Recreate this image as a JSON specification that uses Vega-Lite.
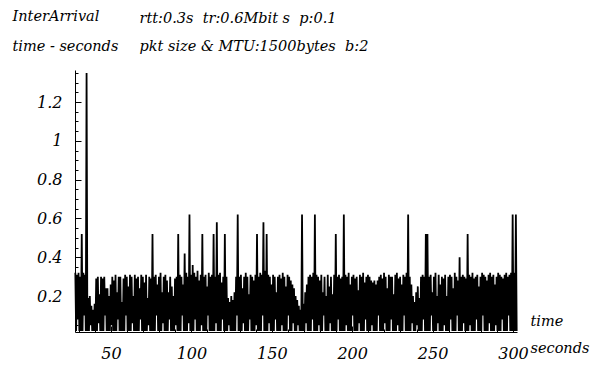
{
"$schema": "https://vega.github.io/schema/vega-lite/v6.json",
"width": 442, "height": 262,
"autosize": {"type": "none"},
"padding": {"left": 75, "top": 70, "right": 88, "bottom": 35},
"background": "white",
"data": {"values": [
{"t":27.8,"v":0.32},{"t":28.3,"v":0.02},{"t":28.8,"v":0.31},{"t":29.3,"v":0.08},{"t":29.8,"v":0.32},{"t":30.3,"v":0.02},{"t":30.8,"v":0.30},{"t":31.3,"v":0.02},{"t":31.8,"v":0.52},{"t":32.3,"v":0.02},
{"t":32.8,"v":0.32},{"t":33.3,"v":0.1},{"t":33.8,"v":0.31},{"t":34.3,"v":0.02},{"t":34.8,"v":1.35},{"t":35.3,"v":0.02},{"t":35.8,"v":0.19},{"t":36.3,"v":0.02},{"t":36.8,"v":0.2},{"t":37.3,"v":0.05},
{"t":37.8,"v":0.15},{"t":38.3,"v":0.02},{"t":38.8,"v":0.13},{"t":39.3,"v":0.02},{"t":39.8,"v":0.16},{"t":40.3,"v":0.02},{"t":40.8,"v":0.29},{"t":41.3,"v":0.02},{"t":41.8,"v":0.3},{"t":42.3,"v":0.06},
{"t":42.8,"v":0.21},{"t":43.3,"v":0.02},{"t":43.8,"v":0.3},{"t":44.3,"v":0.02},{"t":44.8,"v":0.29},{"t":45.3,"v":0.02},{"t":45.8,"v":0.3},{"t":46.3,"v":0.1},{"t":46.8,"v":0.24},{"t":47.3,"v":0.02},
{"t":47.8,"v":0.24},{"t":48.3,"v":0.02},{"t":48.8,"v":0.2},{"t":49.3,"v":0.02},{"t":49.8,"v":0.26},{"t":50.3,"v":0.05},{"t":50.8,"v":0.3},{"t":51.3,"v":0.02},{"t":51.8,"v":0.28},{"t":52.3,"v":0.02},
{"t":52.8,"v":0.31},{"t":53.3,"v":0.02},{"t":53.8,"v":0.22},{"t":54.3,"v":0.08},{"t":54.8,"v":0.3},{"t":55.3,"v":0.02},{"t":55.8,"v":0.3},{"t":56.3,"v":0.02},{"t":56.8,"v":0.17},{"t":57.3,"v":0.02},
{"t":57.8,"v":0.29},{"t":58.3,"v":0.02},{"t":58.8,"v":0.31},{"t":59.3,"v":0.1},{"t":59.8,"v":0.3},{"t":60.3,"v":0.02},{"t":60.8,"v":0.25},{"t":61.3,"v":0.02},{"t":61.8,"v":0.31},{"t":62.3,"v":0.02},
{"t":62.8,"v":0.3},{"t":63.3,"v":0.06},{"t":63.8,"v":0.2},{"t":64.3,"v":0.02},{"t":64.8,"v":0.31},{"t":65.3,"v":0.02},{"t":65.8,"v":0.29},{"t":66.3,"v":0.02},{"t":66.8,"v":0.3},{"t":67.3,"v":0.02},
{"t":67.8,"v":0.24},{"t":68.3,"v":0.08},{"t":68.8,"v":0.31},{"t":69.3,"v":0.02},{"t":69.8,"v":0.3},{"t":70.3,"v":0.02},{"t":70.8,"v":0.27},{"t":71.3,"v":0.02},{"t":71.8,"v":0.31},{"t":72.3,"v":0.02},
{"t":72.8,"v":0.19},{"t":73.3,"v":0.05},{"t":73.8,"v":0.3},{"t":74.3,"v":0.02},{"t":74.8,"v":0.29},{"t":75.3,"v":0.02},{"t":75.8,"v":0.52},{"t":76.3,"v":0.02},{"t":76.8,"v":0.3},{"t":77.3,"v":0.02},
{"t":77.8,"v":0.31},{"t":78.3,"v":0.1},{"t":78.8,"v":0.26},{"t":79.3,"v":0.02},{"t":79.8,"v":0.3},{"t":80.3,"v":0.02},{"t":80.8,"v":0.32},{"t":81.3,"v":0.02},{"t":81.8,"v":0.22},{"t":82.3,"v":0.06},
{"t":82.8,"v":0.3},{"t":83.3,"v":0.02},{"t":83.8,"v":0.31},{"t":84.3,"v":0.02},{"t":84.8,"v":0.28},{"t":85.3,"v":0.02},{"t":85.8,"v":0.22},{"t":86.3,"v":0.08},{"t":86.8,"v":0.3},{"t":87.3,"v":0.02},
{"t":87.8,"v":0.25},{"t":88.3,"v":0.02},{"t":88.8,"v":0.2},{"t":89.3,"v":0.02},{"t":89.8,"v":0.29},{"t":90.3,"v":0.05},{"t":90.8,"v":0.3},{"t":91.3,"v":0.02},{"t":91.8,"v":0.52},{"t":92.3,"v":0.02},
{"t":92.8,"v":0.31},{"t":93.3,"v":0.02},{"t":93.8,"v":0.3},{"t":94.3,"v":0.1},{"t":94.8,"v":0.26},{"t":95.3,"v":0.02},{"t":95.8,"v":0.42},{"t":96.3,"v":0.02},{"t":96.8,"v":0.32},{"t":97.3,"v":0.02},
{"t":97.8,"v":0.3},{"t":98.3,"v":0.06},{"t":98.8,"v":0.62},{"t":99.3,"v":0.02},{"t":99.8,"v":0.31},{"t":100.3,"v":0.02},{"t":100.8,"v":0.36},{"t":101.3,"v":0.02},{"t":101.8,"v":0.32},{"t":102.3,"v":0.08},
{"t":102.8,"v":0.3},{"t":103.3,"v":0.02},{"t":103.8,"v":0.33},{"t":104.3,"v":0.02},{"t":104.8,"v":0.28},{"t":105.3,"v":0.02},{"t":105.8,"v":0.31},{"t":106.3,"v":0.05},{"t":106.8,"v":0.52},{"t":107.3,"v":0.02},
{"t":107.8,"v":0.3},{"t":108.3,"v":0.02},{"t":108.8,"v":0.31},{"t":109.3,"v":0.02},{"t":109.8,"v":0.25},{"t":110.3,"v":0.1},{"t":110.8,"v":0.32},{"t":111.3,"v":0.02},{"t":111.8,"v":0.3},{"t":112.3,"v":0.02},
{"t":112.8,"v":0.31},{"t":113.3,"v":0.02},{"t":113.8,"v":0.52},{"t":114.3,"v":0.02},{"t":114.8,"v":0.3},{"t":115.3,"v":0.06},{"t":115.8,"v":0.58},{"t":116.3,"v":0.02},{"t":116.8,"v":0.31},{"t":117.3,"v":0.02},
{"t":117.8,"v":0.32},{"t":118.3,"v":0.02},{"t":118.8,"v":0.27},{"t":119.3,"v":0.08},{"t":119.8,"v":0.3},{"t":120.3,"v":0.02},{"t":120.8,"v":0.52},{"t":121.3,"v":0.02},{"t":121.8,"v":0.3},{"t":122.3,"v":0.02},
{"t":122.8,"v":0.19},{"t":123.3,"v":0.05},{"t":123.8,"v":0.17},{"t":124.3,"v":0.02},{"t":124.8,"v":0.2},{"t":125.3,"v":0.02},{"t":125.8,"v":0.18},{"t":126.3,"v":0.02},{"t":126.8,"v":0.22},{"t":127.3,"v":0.02},
{"t":127.8,"v":0.3},{"t":128.3,"v":0.1},{"t":128.8,"v":0.62},{"t":129.3,"v":0.02},{"t":129.8,"v":0.3},{"t":130.3,"v":0.02},{"t":130.8,"v":0.31},{"t":131.3,"v":0.02},{"t":131.8,"v":0.24},{"t":132.3,"v":0.06},
{"t":132.8,"v":0.3},{"t":133.3,"v":0.02},{"t":133.8,"v":0.32},{"t":134.3,"v":0.02},{"t":134.8,"v":0.3},{"t":135.3,"v":0.02},{"t":135.8,"v":0.21},{"t":136.3,"v":0.08},{"t":136.8,"v":0.31},{"t":137.3,"v":0.02},
{"t":137.8,"v":0.3},{"t":138.3,"v":0.02},{"t":138.8,"v":0.28},{"t":139.3,"v":0.02},{"t":139.8,"v":0.31},{"t":140.3,"v":0.05},{"t":140.8,"v":0.52},{"t":141.3,"v":0.02},{"t":141.8,"v":0.3},{"t":142.3,"v":0.02},
{"t":142.8,"v":0.32},{"t":143.3,"v":0.02},{"t":143.8,"v":0.31},{"t":144.3,"v":0.1},{"t":144.8,"v":0.58},{"t":145.3,"v":0.02},{"t":145.8,"v":0.33},{"t":146.3,"v":0.02},{"t":146.8,"v":0.52},{"t":147.3,"v":0.02},
{"t":147.8,"v":0.31},{"t":148.3,"v":0.06},{"t":148.8,"v":0.3},{"t":149.3,"v":0.02},{"t":149.8,"v":0.26},{"t":150.3,"v":0.02},{"t":150.8,"v":0.31},{"t":151.3,"v":0.02},{"t":151.8,"v":0.3},{"t":152.3,"v":0.08},
{"t":152.8,"v":0.22},{"t":153.3,"v":0.02},{"t":153.8,"v":0.3},{"t":154.3,"v":0.02},{"t":154.8,"v":0.31},{"t":155.3,"v":0.02},{"t":155.8,"v":0.29},{"t":156.3,"v":0.05},{"t":156.8,"v":0.32},{"t":157.3,"v":0.02},
{"t":157.8,"v":0.3},{"t":158.3,"v":0.02},{"t":158.8,"v":0.25},{"t":159.3,"v":0.02},{"t":159.8,"v":0.31},{"t":160.3,"v":0.1},{"t":160.8,"v":0.3},{"t":161.3,"v":0.02},{"t":161.8,"v":0.28},{"t":162.3,"v":0.02},
{"t":162.8,"v":0.26},{"t":163.3,"v":0.06},{"t":163.8,"v":0.24},{"t":164.3,"v":0.02},{"t":164.8,"v":0.2},{"t":165.3,"v":0.02},{"t":165.8,"v":0.18},{"t":166.3,"v":0.05},{"t":166.8,"v":0.15},{"t":167.3,"v":0.02},
{"t":167.8,"v":0.13},{"t":168.3,"v":0.02},{"t":168.8,"v":0.62},{"t":169.3,"v":0.02},{"t":169.8,"v":0.16},{"t":170.3,"v":0.02},{"t":170.8,"v":0.22},{"t":171.3,"v":0.06},{"t":171.8,"v":0.26},{"t":172.3,"v":0.02},
{"t":172.8,"v":0.3},{"t":173.3,"v":0.02},{"t":173.8,"v":0.31},{"t":174.3,"v":0.02},{"t":174.8,"v":0.3},{"t":175.3,"v":0.08},{"t":175.8,"v":0.32},{"t":176.3,"v":0.02},{"t":176.8,"v":0.62},{"t":177.3,"v":0.02},
{"t":177.8,"v":0.31},{"t":178.3,"v":0.02},{"t":178.8,"v":0.3},{"t":179.3,"v":0.05},{"t":179.8,"v":0.28},{"t":180.3,"v":0.02},{"t":180.8,"v":0.31},{"t":181.3,"v":0.02},{"t":181.8,"v":0.22},{"t":182.3,"v":0.1},
{"t":182.8,"v":0.3},{"t":183.3,"v":0.02},{"t":183.8,"v":0.2},{"t":184.3,"v":0.02},{"t":184.8,"v":0.31},{"t":185.3,"v":0.02},{"t":185.8,"v":0.25},{"t":186.3,"v":0.06},{"t":186.8,"v":0.3},{"t":187.3,"v":0.02},
{"t":187.8,"v":0.21},{"t":188.3,"v":0.02},{"t":188.8,"v":0.31},{"t":189.3,"v":0.02},{"t":189.8,"v":0.52},{"t":190.3,"v":0.02},{"t":190.8,"v":0.3},{"t":191.3,"v":0.08},{"t":191.8,"v":0.31},{"t":192.3,"v":0.02},
{"t":192.8,"v":0.29},{"t":193.3,"v":0.02},{"t":193.8,"v":0.3},{"t":194.3,"v":0.02},{"t":194.8,"v":0.62},{"t":195.3,"v":0.02},{"t":195.8,"v":0.31},{"t":196.3,"v":0.05},{"t":196.8,"v":0.3},{"t":197.3,"v":0.02},
{"t":197.8,"v":0.32},{"t":198.3,"v":0.02},{"t":198.8,"v":0.26},{"t":199.3,"v":0.02},{"t":199.8,"v":0.3},{"t":200.3,"v":0.1},{"t":200.8,"v":0.31},{"t":201.3,"v":0.02},{"t":201.8,"v":0.29},{"t":202.3,"v":0.02},
{"t":202.8,"v":0.3},{"t":203.3,"v":0.02},{"t":203.8,"v":0.23},{"t":204.3,"v":0.06},{"t":204.8,"v":0.31},{"t":205.3,"v":0.02},{"t":205.8,"v":0.3},{"t":206.3,"v":0.02},{"t":206.8,"v":0.32},{"t":207.3,"v":0.02},
{"t":207.8,"v":0.27},{"t":208.3,"v":0.08},{"t":208.8,"v":0.3},{"t":209.3,"v":0.02},{"t":209.8,"v":0.31},{"t":210.3,"v":0.02},{"t":210.8,"v":0.3},{"t":211.3,"v":0.02},{"t":211.8,"v":0.28},{"t":212.3,"v":0.05},
{"t":212.8,"v":0.27},{"t":213.3,"v":0.02},{"t":213.8,"v":0.28},{"t":214.3,"v":0.02},{"t":214.8,"v":0.26},{"t":215.3,"v":0.02},{"t":215.8,"v":0.28},{"t":216.3,"v":0.1},{"t":216.8,"v":0.3},{"t":217.3,"v":0.02},
{"t":217.8,"v":0.31},{"t":218.3,"v":0.02},{"t":218.8,"v":0.29},{"t":219.3,"v":0.02},{"t":219.8,"v":0.32},{"t":220.3,"v":0.06},{"t":220.8,"v":0.3},{"t":221.3,"v":0.02},{"t":221.8,"v":0.24},{"t":222.3,"v":0.02},
{"t":222.8,"v":0.31},{"t":223.3,"v":0.02},{"t":223.8,"v":0.3},{"t":224.3,"v":0.08},{"t":224.8,"v":0.3},{"t":225.3,"v":0.02},{"t":225.8,"v":0.21},{"t":226.3,"v":0.02},{"t":226.8,"v":0.31},{"t":227.3,"v":0.02},
{"t":227.8,"v":0.32},{"t":228.3,"v":0.05},{"t":228.8,"v":0.29},{"t":229.3,"v":0.02},{"t":229.8,"v":0.3},{"t":230.3,"v":0.02},{"t":230.8,"v":0.26},{"t":231.3,"v":0.02},{"t":231.8,"v":0.31},{"t":232.3,"v":0.1},
{"t":232.8,"v":0.3},{"t":233.3,"v":0.02},{"t":233.8,"v":0.32},{"t":234.3,"v":0.02},{"t":234.8,"v":0.62},{"t":235.3,"v":0.02},{"t":235.8,"v":0.3},{"t":236.3,"v":0.02},{"t":236.8,"v":0.26},{"t":237.3,"v":0.06},
{"t":237.8,"v":0.2},{"t":238.3,"v":0.02},{"t":238.8,"v":0.17},{"t":239.3,"v":0.02},{"t":239.8,"v":0.22},{"t":240.3,"v":0.05},{"t":240.8,"v":0.25},{"t":241.3,"v":0.02},{"t":241.8,"v":0.19},{"t":242.3,"v":0.02},
{"t":242.8,"v":0.3},{"t":243.3,"v":0.02},{"t":243.8,"v":0.31},{"t":244.3,"v":0.08},{"t":244.8,"v":0.3},{"t":245.3,"v":0.02},{"t":245.8,"v":0.52},{"t":246.3,"v":0.02},{"t":246.8,"v":0.52},{"t":247.3,"v":0.02},
{"t":247.8,"v":0.3},{"t":248.3,"v":0.02},{"t":248.8,"v":0.31},{"t":249.3,"v":0.1},{"t":249.8,"v":0.22},{"t":250.3,"v":0.02},{"t":250.8,"v":0.3},{"t":251.3,"v":0.02},{"t":251.8,"v":0.32},{"t":252.3,"v":0.02},
{"t":252.8,"v":0.2},{"t":253.3,"v":0.06},{"t":253.8,"v":0.31},{"t":254.3,"v":0.02},{"t":254.8,"v":0.26},{"t":255.3,"v":0.02},{"t":255.8,"v":0.3},{"t":256.3,"v":0.02},{"t":256.8,"v":0.29},{"t":257.3,"v":0.05},
{"t":257.8,"v":0.31},{"t":258.3,"v":0.02},{"t":258.8,"v":0.2},{"t":259.3,"v":0.02},{"t":259.8,"v":0.3},{"t":260.3,"v":0.02},{"t":260.8,"v":0.31},{"t":261.3,"v":0.08},{"t":261.8,"v":0.3},{"t":262.3,"v":0.02},
{"t":262.8,"v":0.24},{"t":263.3,"v":0.02},{"t":263.8,"v":0.32},{"t":264.3,"v":0.02},{"t":264.8,"v":0.3},{"t":265.3,"v":0.1},{"t":265.8,"v":0.28},{"t":266.3,"v":0.02},{"t":266.8,"v":0.40},{"t":267.3,"v":0.02},
{"t":267.8,"v":0.3},{"t":268.3,"v":0.02},{"t":268.8,"v":0.31},{"t":269.3,"v":0.06},{"t":269.8,"v":0.3},{"t":270.3,"v":0.02},{"t":270.8,"v":0.29},{"t":271.3,"v":0.02},{"t":271.8,"v":0.52},{"t":272.3,"v":0.02},
{"t":272.8,"v":0.31},{"t":273.3,"v":0.05},{"t":273.8,"v":0.3},{"t":274.3,"v":0.02},{"t":274.8,"v":0.32},{"t":275.3,"v":0.02},{"t":275.8,"v":0.29},{"t":276.3,"v":0.02},{"t":276.8,"v":0.3},{"t":277.3,"v":0.08},
{"t":277.8,"v":0.31},{"t":278.3,"v":0.02},{"t":278.8,"v":0.25},{"t":279.3,"v":0.02},{"t":279.8,"v":0.3},{"t":280.3,"v":0.02},{"t":280.8,"v":0.32},{"t":281.3,"v":0.1},{"t":281.8,"v":0.31},{"t":282.3,"v":0.02},
{"t":282.8,"v":0.3},{"t":283.3,"v":0.02},{"t":283.8,"v":0.28},{"t":284.3,"v":0.02},{"t":284.8,"v":0.31},{"t":285.3,"v":0.06},{"t":285.8,"v":0.32},{"t":286.3,"v":0.02},{"t":286.8,"v":0.3},{"t":287.3,"v":0.02},
{"t":287.8,"v":0.31},{"t":288.3,"v":0.02},{"t":288.8,"v":0.26},{"t":289.3,"v":0.05},{"t":289.8,"v":0.3},{"t":290.3,"v":0.02},{"t":290.8,"v":0.32},{"t":291.3,"v":0.02},{"t":291.8,"v":0.31},{"t":292.3,"v":0.02},
{"t":292.8,"v":0.3},{"t":293.3,"v":0.08},{"t":293.8,"v":0.29},{"t":294.3,"v":0.02},{"t":294.8,"v":0.31},{"t":295.3,"v":0.02},{"t":295.8,"v":0.32},{"t":296.3,"v":0.02},{"t":296.8,"v":0.3},{"t":297.3,"v":0.1},
{"t":297.8,"v":0.31},{"t":298.3,"v":0.02},{"t":298.8,"v":0.32},{"t":299.3,"v":0.02},{"t":299.8,"v":0.62},{"t":300.3,"v":0.02},{"t":300.8,"v":0.32},{"t":301.3,"v":0.02},{"t":301.8,"v":0.62},{"t":302.3,"v":0.02}
]},
"layer": [
  {"mark": {"type": "line", "color": "black", "strokeWidth": 1.8, "clip": false},
   "encoding": {
    "x": {"field": "t", "type": "quantitative",
      "scale": {"domain": [27.6, 302.5], "nice": false, "zero": false},
      "axis": {"orient": "bottom", "values": [30,40,50,60,70,80,90,100,110,120,130,140,150,160,170,180,190,200,210,220,230,240,250,260,270,280,290,300],
        "labelExpr": "datum.value % 50 === 0 ? format(datum.value, 'd') : ''",
        "tickSize": {"condition": {"test": "datum.value % 50 === 0", "value": -6}, "value": -3},
        "labelPadding": 19,
        "title": ["time", "seconds"], "titleX": 455, "titleY": -7, "titleAlign": "left", "titleBaseline": "alphabetic", "titleAngle": 0, "titleLineHeight": 27}},
    "y": {"field": "v", "type": "quantitative",
      "scale": {"domain": [0.015, 1.365], "nice": false, "zero": false},
      "axis": {"values": [0.05,0.1,0.15,0.2,0.25,0.3,0.35,0.4,0.45,0.5,0.55,0.6,0.65,0.7,0.75,0.8,0.85,0.9,0.95,1,1.05,1.1,1.15,1.2,1.25,1.3,1.35],
        "labelExpr": "round(datum.value * 100) % 20 === 0 ? format(datum.value, '~g') : ''",
        "tickSize": {"condition": {"test": "round(datum.value * 100) % 20 === 0", "value": -6}, "value": -3},
        "labelPadding": 19,
        "title": ["InterArrival", "time - seconds"], "titleX": -63, "titleY": -50, "titleAlign": "left", "titleBaseline": "alphabetic", "titleAngle": 0, "titleLineHeight": 30}}
   }},
  {"mark": {"type": "line", "opacity": 0},
   "encoding": {
    "x": {"field": "t", "type": "quantitative",
      "scale": {"domain": [27.6, 302.5], "nice": false, "zero": false},
      "axis": {"orient": "top", "domain": false, "ticks": false, "labels": false,
        "title": ["rtt:0.3s\u00a0\u00a0tr:0.6Mbit\u00a0s\u00a0\u00a0p:0.1", "pkt size & MTU:1500bytes\u00a0\u00a0b:2"],
        "titleX": 64, "titleY": -48, "titleAlign": "left", "titleBaseline": "alphabetic", "titleAngle": 0, "titleLineHeight": 28}}
   }}
],
"resolve": {"axis": {"x": "independent"}},
"config": {
  "view": {"stroke": null},
  "font": "DejaVu Serif",
  "axis": {"domainColor": "black", "domainWidth": 1, "tickColor": "black", "tickWidth": 1,
    "labelFont": "DejaVu Serif", "labelFontStyle": "italic", "labelFontSize": 16, "labelColor": "black",
    "titleFont": "DejaVu Serif", "titleFontStyle": "italic", "titleFontWeight": "normal", "titleFontSize": 14.5, "titleColor": "black",
    "grid": false, "labelFlush": false, "labelOverlap": false}
}
}
